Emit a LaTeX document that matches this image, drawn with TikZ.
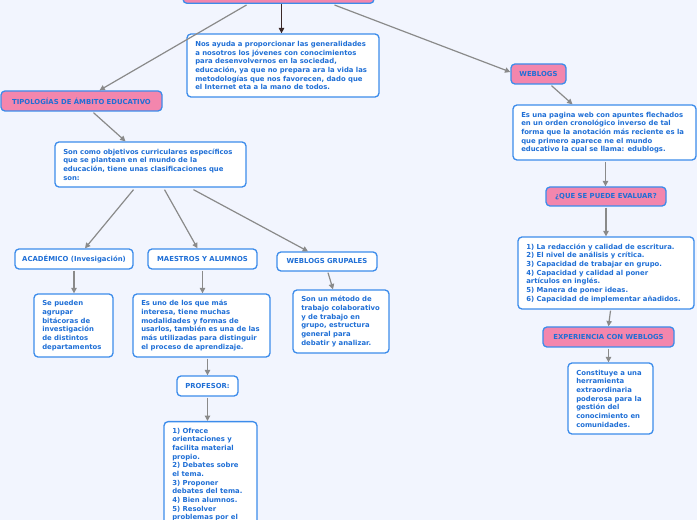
\documentclass[tikz,border=0pt]{standalone}
\usepackage{fontspec}
\setmainfont{DejaVu Sans}
\usetikzlibrary{arrows.meta}
\definecolor{bgc}{HTML}{F2F5FE}
\definecolor{txc}{HTML}{1F6FD6}
\definecolor{brd}{HTML}{3C8CEB}
\definecolor{pnk}{HTML}{F386AD}
\definecolor{grl}{HTML}{8A8A8A}
\definecolor{dkl}{HTML}{3A2828}
\tikzset{
  shell/.style={draw=brd, line width=1pt, rounded corners=3pt, inner sep=0pt},
  wbox/.style={shell, fill=white},
  pbox/.style={shell, fill=pnk},
  hbox/.style={shell, fill=white},
  txt/.style={text=txc, font=\bfseries\fontsize{5.15}{6.5}\selectfont, inner sep=0pt},
  conn/.style={draw=grl, line width=0.9pt, -{Triangle[length=4pt,width=4pt]}},
  dconn/.style={draw=dkl, line width=1pt, -{Triangle[length=4pt,width=4pt]}}
}
% box with left-aligned text
\newcommand\lbx[6]{%
  \pgfmathsetmacro\bw{(#4-#2)*0.75}%
  \pgfmathsetmacro\bh{(#5-#3)*0.75}%
  \node[wbox, minimum width=\bw pt, minimum height=\bh pt] (#1) at ({(#2+#4)/2},{(#3+#5)/2}) {};
  \node[txt, align=left, anchor=west] (#1-t) at ([xshift=6.5pt]#1.west) {#6};}
% box with centred text
\newcommand\cbx[7]{%
  \pgfmathsetmacro\bw{(#4-#2)*0.75}%
  \pgfmathsetmacro\bh{(#5-#3)*0.75}%
  \node[#6, minimum width=\bw pt, minimum height=\bh pt] (#1) at ({(#2+#4)/2},{(#3+#5)/2}) {};
  \node[txt, align=center] (#1-t) at (#1.center) {#7};}
\begin{document}
\begin{tikzpicture}[x=0.75pt,y=-0.75pt]
\useasboundingbox (0,0) rectangle (697,520);
\clip (0,0) rectangle (697,520);
\fill[bgc] (0,0) rectangle (697,520);

\pgfmathsetmacro\bw{(374-183)*0.75}
\node[pbox, minimum width=\bw pt, minimum height=25pt, anchor=south] (top) at (278.5,4) {};
\lbx{nos}{187}{34}{379}{97}{Nos ayuda a proporcionar las generalidades\\a nosotros los jóvenes con conocimientos\\para desenvolvernos en la sociedad,\\educación, ya que no prepara ara la vida las\\metodologías que nos favorecen, dado que\\el Internet eta a la mano de todos.}
\cbx{tipo}{1}{91}{162}{111}{pbox}{TIPOLOGÍAS DE ÁMBITO EDUCATIVO}
\lbx{son}{55}{142}{246}{187}{Son como objetivos curriculares específicos\\que se plantean en el mundo de la\\educación, tiene unas clasificaciones que\\son:}
\cbx{acad}{15}{249}{133}{269}{hbox}{ACADÉMICO (Invesigación)}
\cbx{maes}{148}{249}{257}{269}{hbox}{MAESTROS Y ALUMNOS}
\cbx{grup}{277}{252}{377}{271}{hbox}{WEBLOGS GRUPALES}
\lbx{sep}{34}{294}{113}{357}{Se pueden\\agrupar\\bitácoras de\\investigación\\de distintos\\departamentos}
\lbx{esuno}{133}{294}{270}{357}{Es uno de los que más\\interesa, tiene muchas\\modalidades y formas de\\usarlos, también es una de las\\más utilizadas para distinguir\\el proceso de aprendizaje.}
\lbx{metodo}{293}{290}{389}{353}{Son un método de\\trabajo colaborativo\\y de trabajo en\\grupo, estructura\\general para\\debatir y analizar.}
\cbx{prof}{177}{376}{238}{396}{hbox}{PROFESOR:}
\pgfmathsetmacro\bw{(257-164)*0.75}
\node[wbox, minimum width=\bw pt, minimum height=100pt, anchor=north] (ofr) at (210.5,421) {};
\node[txt, anchor=north west, align=left] (ofr-t) at ([shift={(6.5pt,-5pt)}]ofr.north west) {1) Ofrece\\orientaciones y\\facilita material\\propio.\\2) Debates sobre\\el tema.\\3) Proponer\\debates del tema.\\4) Bien alumnos.\\5) Resolver\\problemas por el};

\cbx{web}{511}{64}{566}{84}{pbox}{WEBLOGS}
\lbx{esuna}{513}{105}{696}{160}{Es una pagina web con apuntes flechados\\en un orden cronológico inverso de tal\\forma que la anotación más reciente es la\\que primero aparece ne el mundo\\educativo la cual se llama: edublogs.}
\cbx{que}{546}{187}{666}{206}{pbox}{¿QUE SE PUEDE EVALUAR?}
\lbx{list}{518}{237}{694}{309}{1) La redacción y calidad de escritura.\\2) El nivel de análisis y crítica.\\3) Capacidad de trabajar en grupo.\\4) Capacidad y calidad al poner\\artículos en inglés.\\5) Manera de poner ideas.\\6) Capacidad de implementar añadidos.}
\cbx{exp}{543}{327}{674}{347}{pbox}{EXPERIENCIA CON WEBLOGS}
\lbx{const}{568}{363}{653}{434}{Constituye a una\\herramienta\\extraordinaria\\poderosa para la\\gestión del\\conocimiento en\\comunidades.}

% connectors
\draw[dconn] ([shift={(3,0)}]top.south) -- ([shift={(3,0)}]top.south |- nos.north);
\draw[conn] ([shift={(-32,1)}]top.south) -- ([shift={(18,0)}]tipo.north);
\draw[conn] ([shift={(56,1)}]top.south) -- ([shift={(0,-2)}]web.west);
\draw[conn] ([shift={(12,1)}]tipo.south) -- ([shift={(-25,0)}]son.north);
\draw[conn] ([shift={(-17,2)}]son.south) -- ([shift={(11,0)}]acad.north);
\draw[conn] ([shift={(14,2)}]son.south) -- ([shift={(-5,0)}]maes.north);
\draw[conn] ([shift={(43,2)}]son.south) -- ([shift={(-19,0)}]grup.north);
\draw[conn] ([shift={(0,1)}]acad.south) -- (acad.south |- sep.north);
\draw[conn] ([shift={(0,1)}]maes.south) -- (maes.south |- esuno.north);
\draw[conn] ([shift={(1,1)}]grup.south) -- ([shift={(-8,0)}]metodo.north);
\draw[conn] ([shift={(0,1)}]prof.south |- esuno.south) -- (prof.north);
\draw[conn] ([shift={(0,1)}]prof.south) -- (prof.south |- ofr.north);
\draw[conn] ([shift={(13,1)}]web.south) -- ([shift={(-32,0)}]esuna.north);
\draw[conn] ([shift={(1,1)}]esuna.south) -- ([shift={(1,0)}]esuna.south |- que.north);
\draw[conn] ([shift={(0,1)}]que.south) -- (que.south |- list.north);
\draw[conn] ([shift={(2,1)}]exp.south |- list.south) -- (exp.north);
\draw[conn] ([shift={(0,1)}]exp.south) -- (exp.south |- const.north);
\end{tikzpicture}
\end{document}
